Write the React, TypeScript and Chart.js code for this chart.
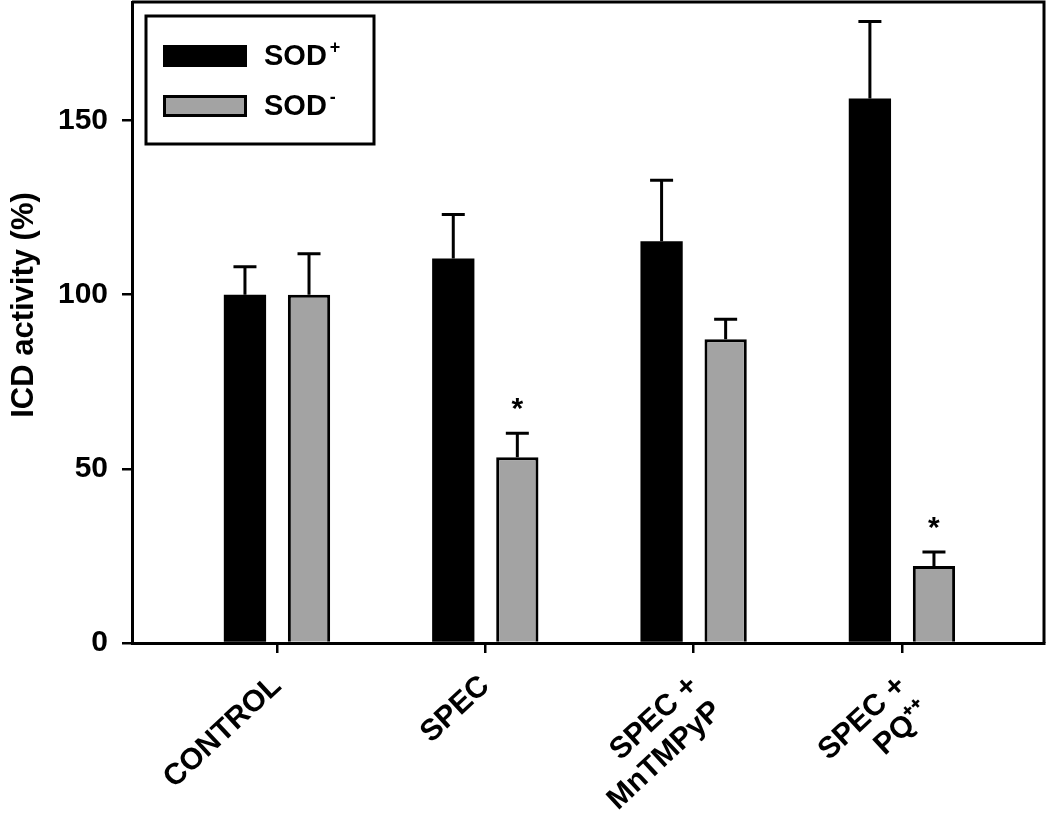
import React, { useEffect, useRef } from 'react';
import { Chart, registerables } from 'chart.js';

Chart.register(...registerables);

// ---- data ----
const categories: string[][] = [['CONTROL'], ['SPEC'], ['SPEC +', 'MnTMPyP'], ['SPEC +', 'PQ⁺⁺']];
const categoryPositions = [1, 2, 3, 4];
const sodPlus = [100, 110.4, 115.3, 156.3];
const sodPlusErr = [8, 12.6, 17.5, 22.1];
const sodMinus = [100, 53.3, 87.2, 22.1];
const sodMinusErr = [11.7, 6.9, 5.7, 4.0];
const sodPlusSignificant = [false, false, false, false];
const sodMinusSignificant = [false, true, false, true];
const yTicks = [0, 50, 100, 150];
const seriesNames = ['SOD', 'SOD'];
const seriesSup = ['+', '-'];
const yTitle = 'ICD activity (%)';

const FONT = '"Liberation Sans", Arial, Helvetica, sans-serif';

const seriesValues = [sodPlus, sodMinus];
const seriesErrors = [sodPlusErr, sodMinusErr];
const seriesSignificant = [sodPlusSignificant, sodMinusSignificant];

const framePlugin = {
  id: 'frame',
  afterDraw(chart: any) {
    const { ctx, chartArea } = chart;
    ctx.save();
    ctx.strokeStyle = '#000';
    ctx.lineWidth = 3;
    ctx.beginPath();
    ctx.moveTo(chartArea.left, chartArea.top);
    ctx.lineTo(chartArea.right, chartArea.top);
    ctx.lineTo(chartArea.right, chartArea.bottom);
    ctx.stroke();
    // y-axis title
    ctx.translate(24, 305);
    ctx.rotate(-Math.PI / 2);
    ctx.fillStyle = '#000';
    ctx.font = `bold 31px ${FONT}`;
    ctx.textAlign = 'center';
    ctx.textBaseline = 'middle';
    ctx.fillText(yTitle, 0, 0);
    ctx.restore();
  },
};

const errorBarPlugin = {
  id: 'errorBars',
  afterDatasetsDraw(chart: any) {
    const { ctx } = chart;
    const yScale = chart.scales.y;
    ctx.save();
    ctx.strokeStyle = '#000';
    ctx.lineWidth = 3;
    chart.data.datasets.forEach((_ds: any, di: number) => {
      const meta = chart.getDatasetMeta(di);
      meta.data.forEach((bar: any, i: number) => {
        const v = seriesValues[di][i];
        const e = seriesErrors[di][i];
        const yTop = yScale.getPixelForValue(v);
        const yErr = yScale.getPixelForValue(v + e);
        const x = bar.x;
        ctx.beginPath();
        ctx.moveTo(x, yTop);
        ctx.lineTo(x, yErr);
        ctx.moveTo(x - 11.5, yErr);
        ctx.lineTo(x + 11.5, yErr);
        ctx.stroke();
        if (seriesSignificant[di][i]) {
          ctx.fillStyle = '#000';
          ctx.font = `bold 30px ${FONT}`;
          ctx.textAlign = 'center';
          ctx.textBaseline = 'alphabetic';
          ctx.fillText('*', x, yErr - 15);
        }
      });
    });
    ctx.restore();
  },
};

const legendPlugin = {
  id: 'boxLegend',
  afterDraw(chart: any) {
    const { ctx } = chart;
    ctx.save();
    ctx.strokeStyle = '#000';
    ctx.lineWidth = 3;
    ctx.strokeRect(146, 16, 228, 128);
    const rows = [56, 106];
    chart.data.datasets.forEach((ds: any, di: number) => {
      const cy = rows[di];
      ctx.fillStyle = ds.backgroundColor;
      ctx.fillRect(163, cy - 11, 84, 22);
      if (ds.borderWidth) {
        ctx.lineWidth = 3;
        ctx.strokeStyle = '#000';
        ctx.strokeRect(164.5, cy - 9.5, 81, 19);
      }
      ctx.fillStyle = '#000';
      ctx.font = `bold 29px ${FONT}`;
      ctx.textAlign = 'left';
      ctx.textBaseline = 'middle';
      ctx.fillText(seriesNames[di], 264, cy + 1);
      const w = ctx.measureText(seriesNames[di]).width;
      ctx.font = `bold 18px ${FONT}`;
      ctx.fillText(seriesSup[di], 264 + w + 3, cy - 8);
    });
    ctx.restore();
  },
};

export default function App() {
  const canvasRef = useRef<HTMLCanvasElement | null>(null);

  useEffect(() => {
    if (!canvasRef.current) return;
    const chart = new Chart(canvasRef.current, {
      type: 'bar',
      data: {
        datasets: [
          {
            label: 'SOD⁺',
            data: categoryPositions.map((x, i) => ({ x, y: sodPlus[i] })),
            backgroundColor: '#000000',
            borderColor: '#000000',
            borderWidth: 0,
          },
          {
            label: 'SOD⁻',
            data: categoryPositions.map((x, i) => ({ x, y: sodMinus[i] })),
            backgroundColor: '#a3a3a3',
            borderColor: '#000000',
            borderWidth: 3,
          },
        ],
      },
      options: {
        responsive: false,
        animation: false,
        devicePixelRatio: 1,
        categoryPercentage: 0.615,
        barPercentage: 0.66,
        layout: { padding: { top: 2, right: 6, left: 0, bottom: 0 } },
        plugins: {
          legend: { display: false },
          tooltip: { enabled: false },
        },
        scales: {
          x: {
            type: 'linear',
            offset: false,
            bounds: 'data',
            min: 0.304,
            max: 4.682,
            afterBuildTicks: (scale: any) => {
              scale.ticks = categoryPositions.map((v) => ({ value: v }));
            },
            afterFit: (scale: any) => {
              scale.height = 178;
              scale.paddingLeft = 0;
              scale.paddingRight = 0;
            },
            grid: {
              display: true,
              offset: false,
              drawOnChartArea: false,
              drawTicks: true,
              tickLength: 10,
              color: '#000',
              lineWidth: 2.5,
            },
            border: { display: true, color: '#000', width: 3 },
            ticks: {
              autoSkip: false,
              minRotation: 43,
              maxRotation: 43,
              padding: 16,
              color: '#000',
              font: { family: FONT, size: 30, weight: 'bold', lineHeight: 1.15 },
              callback: (value: any) => {
                const i = categoryPositions.indexOf(Number(value));
                return i >= 0 ? categories[i] : '';
              },
            },
          },
          y: {
            type: 'linear',
            min: 0,
            max: 184,
            afterBuildTicks: (scale: any) => {
              scale.ticks = yTicks.map((v) => ({ value: v }));
            },
            afterFit: (scale: any) => {
              scale.width = 132;
              scale.paddingTop = 0;
              scale.paddingBottom = 0;
            },
            grid: {
              display: true,
              drawOnChartArea: false,
              drawTicks: true,
              tickLength: 10,
              color: '#000',
              lineWidth: 2.5,
            },
            border: { display: true, color: '#000', width: 3 },
            ticks: {
              padding: 14,
              color: '#000',
              font: { family: FONT, size: 30, weight: 'bold' },
            },
            title: { display: false, text: yTitle },
          },
        },
      } as any,
      plugins: [framePlugin, errorBarPlugin, legendPlugin],
    });
    return () => chart.destroy();
  }, []);

  return (
    <div style={{ position: 'absolute', left: 0, top: 0, width: 1050, height: 821, background: '#fff' }}>
      <canvas ref={canvasRef} width={1050} height={821} style={{ width: 1050, height: 821 }} />
    </div>
  );
}
